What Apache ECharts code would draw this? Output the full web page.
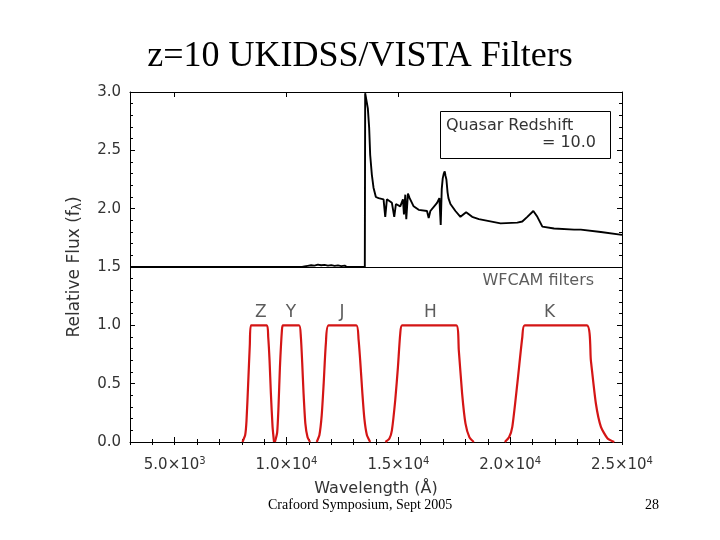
<!DOCTYPE html>
<html><head><meta charset="utf-8">
<script src="https://cdn.jsdelivr.net/npm/echarts@6/dist/echarts.min.js"></script>
<style>html,body{margin:0;padding:0;background:#fff}#c{width:720px;height:540px}</style>
</head><body><div id="c"></div>
<script>
// Quasar spectrum (offset so that zero flux sits at 1.5)
const specWave = [3000, 10700, 10800, 10950, 11100, 11250, 11400, 11550, 11700, 11850, 12000, 12150, 12300, 12450, 12600, 12700,
  13500, 13516, 13550, 13635, 13695, 13740, 13815, 13889, 13994, 14114, 14338, 14413, 14487, 14711, 14816, 14891, 15085,
  15205, 15250, 15310, 15354, 15429, 15504, 15683, 15908, 16281, 16356, 16431, 16730, 16834, 16894, 16940, 16984, 17030, 17073, 17110, 17148,
  17200, 17240, 17328, 17552, 17776, 18030, 18300, 18600, 19570, 20318, 20542, 20766, 21035, 21215, 21439, 21962, 22859,
  23158, 24055, 25000];
const specFlux = [1.5, 1.5, 1.505, 1.51, 1.515, 1.512, 1.52, 1.515, 1.518, 1.512, 1.516, 1.51, 1.514, 1.508, 1.512, 1.5,
  1.5, 2.99, 3.0, 2.86, 2.69, 2.46, 2.29, 2.18, 2.10, 2.09, 2.08, 1.93, 2.08, 2.05, 1.93, 2.04, 2.02,
  2.08, 1.95, 2.12, 1.91, 2.13, 2.09, 2.02, 1.99, 1.98, 1.92, 1.98, 2.05, 2.09, 1.86, 2.17, 2.26, 2.30, 2.32, 2.28, 2.25,
  2.14, 2.09, 2.04, 1.98, 1.93, 1.97, 1.93, 1.91, 1.874, 1.88, 1.89, 1.93, 1.98, 1.93, 1.846, 1.83, 1.82,
  1.82, 1.80, 1.775];

// WFCAM filter transmission curves
const zWave = [8028, 8150, 8209, 8284, 8359, 8410, 9120, 9180, 9240, 9300, 9375, 9440];
const zTrans = [0, 0.06, 0.18, 0.50, 0.84, 1.0, 1.0, 0.90, 0.70, 0.415, 0.13, 0];
const yWave = [9480, 9580, 9640, 9704, 9794, 9840, 10560, 10640, 10700, 10760, 10840, 10940, 11050];
const yTrans = [0, 0.08, 0.30, 0.64, 0.96, 1.0, 1.0, 0.90, 0.68, 0.42, 0.16, 0.04, 0];
const jWave = [11350, 11470, 11573, 11660, 11760, 11880, 13120, 13220, 13293, 13390, 13480, 13592, 13740];
const jTrans = [0, 0.06, 0.23, 0.50, 0.85, 1.0, 1.0, 0.88, 0.70, 0.42, 0.20, 0.06, 0];
const hWave = [14420, 14600, 14711, 14861, 14980, 15085, 15170, 17590, 17701, 17851, 18000, 18179, 18374];
const hTrans = [0, 0.03, 0.10, 0.36, 0.64, 0.93, 1.0, 1.0, 0.79, 0.415, 0.16, 0.04, 0];
const kWave = [19760, 19950, 20095, 20319, 20543, 20648, 23429, 23608, 23832, 24057, 24356, 24655];
const kTrans = [0, 0.04, 0.13, 0.50, 0.90, 1.0, 1.0, 0.70, 0.33, 0.13, 0.03, 0];

const filterNames = ['Z', 'Y', 'J', 'H', 'K'];
const filterLabelWave = [8852, 10197, 12484, 16430, 21767];
const filterLabelY = [1.11, 1.11, 1.11, 1.11, 1.11];

const xMajorTicks = [5000, 10000, 15000, 20000, 25000];
const xTickLabels = ['{b|5.0×10}{s|3}', '{b|1.0×10}{s|4}', '{b|1.5×10}{s|4}', '{b|2.0×10}{s|4}', '{b|2.5×10}{s|4}'];
const yTickLabels = ['0.0', '0.5', '1.0', '1.5', '2.0', '2.5', '3.0'];

const zip = (a, b) => a.map((v, i) => [v, b[i]]);
const font = 'DejaVu Sans';
const txtColor = '#333';

const chart = echarts.init(document.getElementById('c'), null, {renderer: 'canvas'});
const baseX = {type: 'value', min: 3000, max: 25000, splitLine: {show: false}};
const lineStyle = {color: '#000', width: 1};

const filterSeries = [[zWave, zTrans], [yWave, yTrans], [jWave, jTrans], [hWave, hTrans], [kWave, kTrans]].map(f => ({
  type: 'line', data: zip(f[0], f[1]), showSymbol: false, symbol: 'none', silent: true, smooth: 0.2,
  lineStyle: {color: '#d41515', width: 2.2}, xAxisIndex: 0, yAxisIndex: 0, z: 3
}));

chart.setOption({
  animation: false,
  backgroundColor: '#fff',
  grid: {left: 130, right: 98, top: 92, bottom: 98},
  title: {
    text: 'z=10 UKIDSS/VISTA Filters', left: 'center', top: 34,
    textStyle: {fontFamily: 'Liberation Serif', fontSize: 36, fontWeight: 'normal', color: '#000'}
  },
  xAxis: [
    Object.assign({}, baseX, {
      position: 'bottom',
      axisLine: {show: true, onZero: false, lineStyle},
      axisTick: {show: true, inside: true, length: 5, customValues: xMajorTicks, lineStyle},
      axisLabel: {
        customValues: xMajorTicks, margin: 14, color: txtColor, fontFamily: font, fontSize: 15,
        formatter: v => xTickLabels[xMajorTicks.indexOf(v)] || '',
        rich: {b: {fontFamily: font, fontSize: 15, color: txtColor}, s: {fontFamily: font, fontSize: 10, color: txtColor, verticalAlign: 'top', padding: [0, 0, 8, 0]}}
      },
      name: 'Wavelength (Å)', nameLocation: 'middle', nameGap: 39,
      nameTextStyle: {fontFamily: font, fontSize: 16, color: txtColor}
    }),
    Object.assign({}, baseX, {
      position: 'bottom', interval: 1000,
      axisLine: {show: false}, axisLabel: {show: false},
      axisTick: {show: true, inside: true, length: 3, lineStyle}
    }),
    Object.assign({}, baseX, {
      position: 'top',
      axisLine: {show: true, onZero: false, lineStyle},
      axisTick: {show: true, inside: true, length: 5, customValues: xMajorTicks, lineStyle},
      axisLabel: {show: false}
    }),
    Object.assign({}, baseX, {
      position: 'top', interval: 1000,
      axisLine: {show: false}, axisLabel: {show: false},
      axisTick: {show: true, inside: true, length: 3, lineStyle}
    })
  ],
  yAxis: [
    {
      type: 'value', min: 0, max: 3, interval: 0.5, position: 'left',
      splitLine: {show: false},
      axisLine: {show: true, onZero: false, lineStyle},
      axisTick: {show: true, inside: true, length: 5, lineStyle},
      minorTick: {show: true, splitNumber: 5, length: 3, lineStyle},
      axisLabel: {margin: 9, color: txtColor, fontFamily: font, fontSize: 15,
        formatter: v => yTickLabels[Math.round(v / 0.5)]},
      name: 'Relative Flux (f{s|λ})', nameLocation: 'middle', nameGap: 46,
      nameTextStyle: {fontFamily: font, fontSize: 17, color: txtColor,
        rich: {s: {fontFamily: font, fontSize: 12, color: txtColor, verticalAlign: 'bottom', padding: [6, 0, 0, 0]}}}
    },
    {
      type: 'value', min: 0, max: 3, interval: 0.5, position: 'right',
      splitLine: {show: false},
      axisLine: {show: true, onZero: false, lineStyle},
      axisTick: {show: true, inside: true, length: 5, lineStyle},
      minorTick: {show: true, splitNumber: 5, length: 3, lineStyle},
      axisLabel: {show: false}
    }
  ],
  series: [
    {
      type: 'line', data: zip(specWave, specFlux), showSymbol: false, symbol: 'none', silent: true,
      lineStyle: {color: '#000', width: 1.9}, xAxisIndex: 0, yAxisIndex: 0, z: 4,
      markLine: {silent: true, symbol: 'none', label: {show: false},
        lineStyle: {color: '#000', width: 1, type: 'solid'}, data: [{yAxis: 1.5}]}
    },
    ...filterSeries,
    {
      type: 'scatter', symbolSize: 0, silent: true, xAxisIndex: 0, yAxisIndex: 0,
      data: filterNames.map((n, i) => ({value: [filterLabelWave[i], filterLabelY[i]], name: n})),
      label: {show: true, position: 'inside', formatter: p => p.name, fontFamily: font, fontSize: 17, color: txtColor}
    },
    {
      type: 'scatter', symbolSize: 0, silent: true, xAxisIndex: 0, yAxisIndex: 0,
      data: [{value: [23750, 1.38], name: 'WFCAM filters'}],
      label: {show: true, position: 'left', distance: 0, formatter: p => p.name, fontFamily: font, fontSize: 16, color: txtColor}
    }
  ],
  graphic: [
    {type: 'rect', shape: {x: 440.5, y: 111.5, width: 170, height: 47}, style: {fill: '#fff', stroke: '#000', lineWidth: 1}, z: 10},
    {type: 'text', x: 446, y: 126, style: {text: 'Quasar Redshift', fontFamily: font, fontSize: 16, fill: txtColor, textVerticalAlign: 'middle'}, z: 11},
    {type: 'text', x: 596, y: 143, style: {text: '= 10.0', fontFamily: font, fontSize: 16, fill: txtColor, textAlign: 'right', textVerticalAlign: 'middle'}, z: 11},
    {type: 'text', x: 268, y: 505, style: {text: 'Crafoord Symposium, Sept 2005', fontFamily: 'Liberation Serif', fontSize: 14, fill: '#000', textVerticalAlign: 'middle'}},
    {type: 'text', x: 645, y: 505, style: {text: '28', fontFamily: 'Liberation Serif', fontSize: 14, fill: '#000', textVerticalAlign: 'middle'}}
  ]
});
</script></body></html>
